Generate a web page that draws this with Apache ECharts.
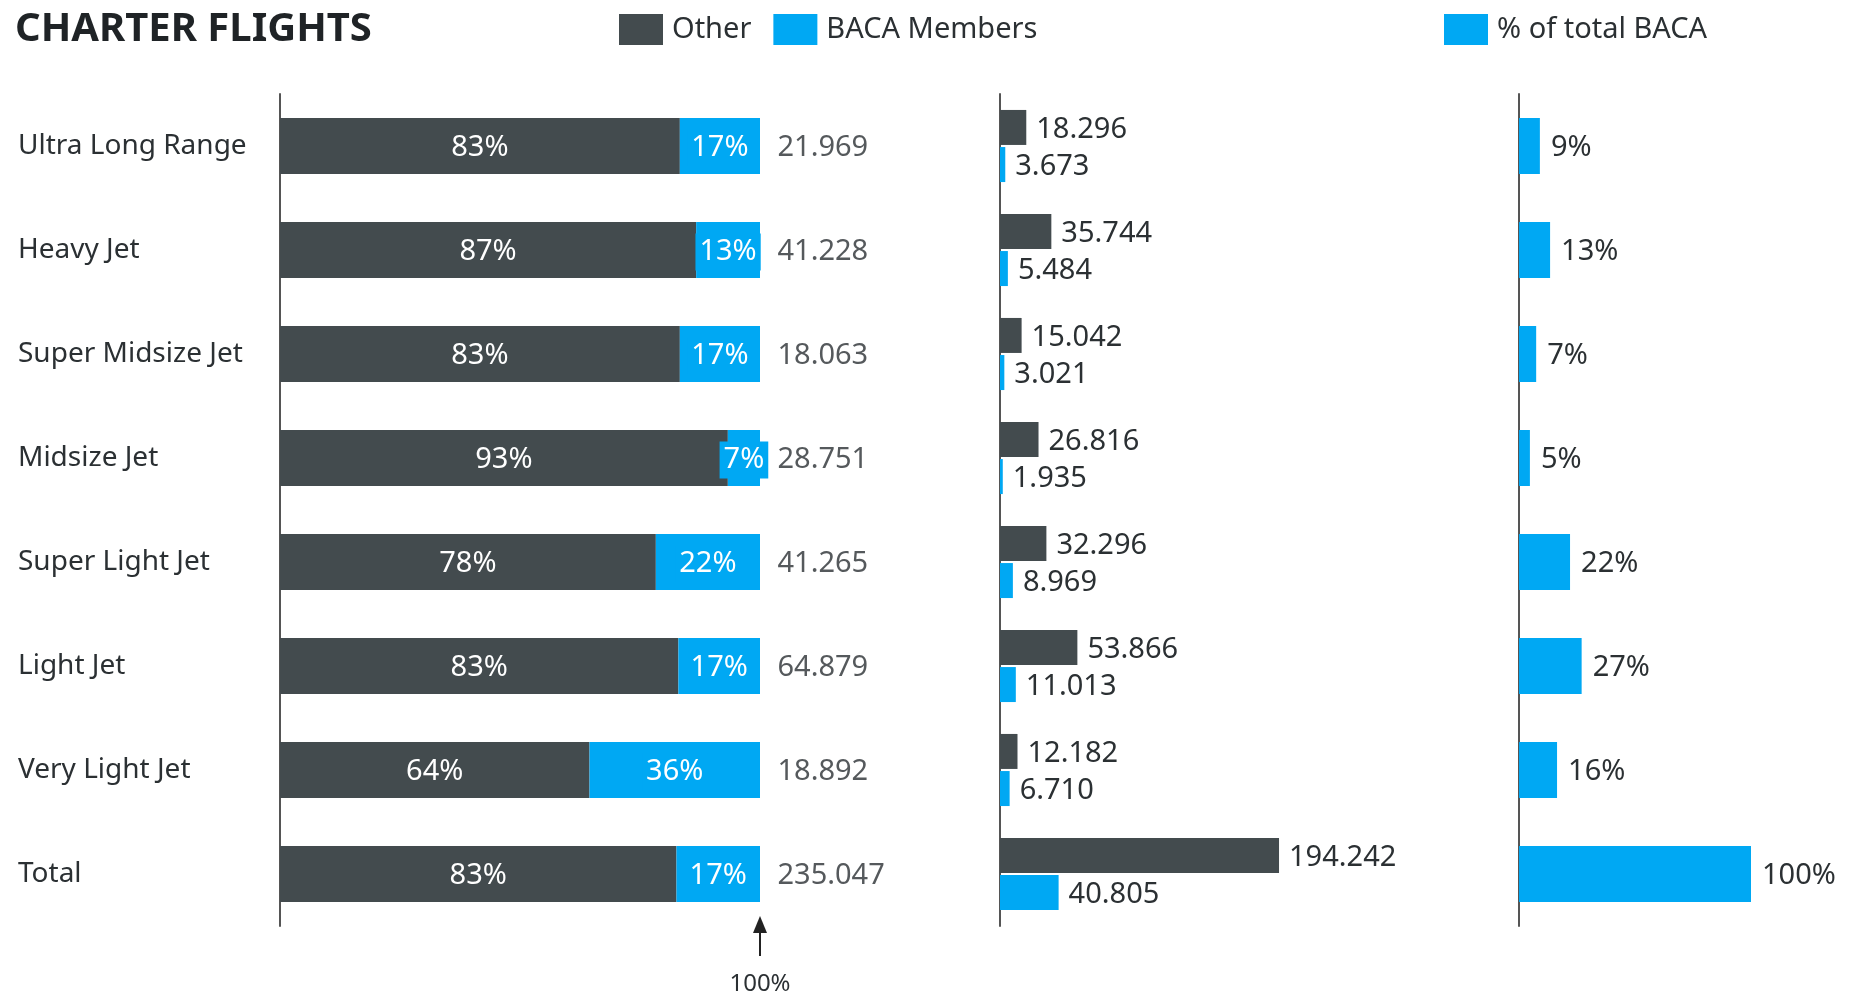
<!DOCTYPE html>
<html>
<head>
<meta charset="utf-8">
<title>Charter Flights</title>
<script src="https://cdn.jsdelivr.net/npm/echarts@6/dist/echarts.min.js"></script>
<style>
  html, body { margin: 0; padding: 0; background: #fff; }
  #main { width: 1854px; height: 998px; }
</style>
</head>
<body>
<div id="main"></div>
<script>
// categories, top to bottom
var categories = ['Ultra Long Range', 'Heavy Jet', 'Super Midsize Jet', 'Midsize Jet',
  'Super Light Jet', 'Light Jet', 'Very Light Jet', 'Total'];
// flights (thousands, shown with '.' separator)
var otherFlights = [18.296, 35.744, 15.042, 26.816, 32.296, 53.866, 12.182, 194.242];
var bacaFlights = [3.673, 5.484, 3.021, 1.935, 8.969, 11.013, 6.710, 40.805];
var totalFlights = [21.969, 41.228, 18.063, 28.751, 41.265, 64.879, 18.892, 235.047];
// share of each category (%)
var otherPct = [83.3, 86.7, 83.3, 93.3, 78.3, 83.0, 64.48, 82.6];
var bacaPct = [16.7, 13.3, 16.7, 6.7, 21.7, 17.0, 35.52, 17.4];
// share of total BACA (%)
var bacaOfTotal = [9.0, 13.4, 7.4, 4.7, 22.0, 27.0, 16.4, 100];

var DARK = '#434b4e';
var BLUE = '#00a8f3';
var TEXT = '#2b3033';
var FONT = 'Noto Sans';
var FS = 29;

var chart = echarts.init(document.getElementById('main'));

function catAxis(gridIndex, showLabels) {
  return {
    type: 'category',
    gridIndex: gridIndex,
    data: categories,
    inverse: true,
    axisLine: { show: true, lineStyle: { color: '#555', width: 2 } },
    axisTick: { show: false },
    axisLabel: {
      show: showLabels,
      align: 'left',
      margin: 262,
      fontSize: 28,
      fontFamily: FONT,
      color: TEXT,
      padding: [0, 0, 4, 0]
    }
  };
}

function valAxis(gridIndex, max) {
  return {
    type: 'value',
    gridIndex: gridIndex,
    min: 0,
    max: max,
    show: false
  };
}

var option = {
  textStyle: { fontFamily: FONT },
  title: {
    text: 'CHARTER FLIGHTS',
    left: 10,
    top: 5,
    textStyle: { fontSize: 40, fontWeight: 'bold', color: '#1f2326', fontFamily: FONT }
  },
  legend: [
    {
      data: ['Other', 'BACA Members'],
      left: 614,
      top: 9,
      icon: 'rect',
      itemWidth: 44,
      itemHeight: 31,
      itemGap: 22,
      textStyle: { fontSize: FS, color: TEXT, fontFamily: FONT, padding: [0, 0, 0, 4] }
    },
    {
      data: ['% of total BACA'],
      left: 1439,
      top: 9,
      icon: 'rect',
      itemWidth: 44,
      itemHeight: 31,
      textStyle: { fontSize: FS, color: TEXT, fontFamily: FONT, padding: [0, 0, 0, 4] }
    }
  ],
  grid: [
    { left: 280, top: 94, width: 480, height: 832 },
    { left: 1000, top: 94, width: 287.3, height: 832 },
    { left: 1519, top: 94, width: 232, height: 832 }
  ],
  xAxis: [valAxis(0, 100), valAxis(1, 200), valAxis(2, 100)],
  yAxis: [catAxis(0, true), catAxis(1, false), catAxis(2, false)],
  series: [
    {
      name: 'Other',
      type: 'bar',
      stack: 'share',
      xAxisIndex: 0,
      yAxisIndex: 0,
      data: otherPct,
      barWidth: 56,
      itemStyle: { color: DARK },
      label: {
        show: true,
        position: 'inside',
        offset: [0, 2],
        color: '#fff',
        fontSize: FS,
        formatter: function (p) { return Math.round(p.value) + '%'; }
      }
    },
    {
      name: 'BACA Members',
      type: 'bar',
      stack: 'share',
      xAxisIndex: 0,
      yAxisIndex: 0,
      data: bacaPct,
      barWidth: 56,
      itemStyle: { color: BLUE },
      label: {
        show: true,
        position: 'inside',
        offset: [0, 2],
        color: '#fff',
        fontSize: FS,
        backgroundColor: BLUE,
        padding: [4, 4, 4, 4],
        formatter: function (p) { return Math.round(p.value) + '%'; }
      }
    },
    {
      name: 'totals',
      type: 'scatter',
      xAxisIndex: 0,
      yAxisIndex: 0,
      symbolSize: 1,
      itemStyle: { color: 'rgba(0,0,0,0)' },
      silent: true,
      data: totalFlights.map(function (v, i) { return [100, i]; }),
      label: {
        show: true,
        position: 'right',
        distance: 17,
        offset: [0, 2],
        color: TEXT,
        fontSize: FS,
        formatter: function (p) { return totalFlights[p.dataIndex].toFixed(3); }
      }
    },
    {
      name: 'Other',
      type: 'bar',
      xAxisIndex: 1,
      yAxisIndex: 1,
      data: otherFlights,
      barWidth: 35,
      barGap: '6%',
      itemStyle: { color: DARK },
      label: {
        show: true,
        position: 'right',
        distance: 10,
        offset: [0, 2],
        color: TEXT,
        fontSize: FS,
        formatter: function (p) { return p.value.toFixed(3); }
      }
    },
    {
      name: 'BACA Members',
      type: 'bar',
      xAxisIndex: 1,
      yAxisIndex: 1,
      data: bacaFlights,
      barWidth: 35,
      itemStyle: { color: BLUE },
      label: {
        show: true,
        position: 'right',
        distance: 10,
        offset: [0, 2],
        color: TEXT,
        fontSize: FS,
        formatter: function (p) { return p.value.toFixed(3); }
      }
    },
    {
      name: '% of total BACA',
      type: 'bar',
      xAxisIndex: 2,
      yAxisIndex: 2,
      data: bacaOfTotal,
      barWidth: 56,
      itemStyle: { color: BLUE },
      label: {
        show: true,
        position: 'right',
        distance: 11,
        offset: [0, 2],
        color: TEXT,
        fontSize: FS,
        formatter: function (p) { return Math.round(p.value) + '%'; }
      }
    }
  ]
};

chart.setOption(option);

// arrow marking the 100% end of the share bars
var x100 = chart.convertToPixel({ xAxisIndex: 0 }, 100);
chart.setOption({
  graphic: [
    {
      type: 'polygon',
      shape: { points: [[x100, 916], [x100 - 7, 933], [x100 + 7, 933]] },
      style: { fill: '#222' }
    },
    {
      type: 'line',
      shape: { x1: x100, y1: 930, x2: x100, y2: 956 },
      style: { stroke: '#222', lineWidth: 2 }
    },
    {
      type: 'text',
      x: x100,
      y: 984,
      style: {
        text: '100%',
        fontSize: 24,
        fontFamily: FONT,
        fill: TEXT,
        align: 'center',
        verticalAlign: 'middle'
      }
    }
  ]
});

window.addEventListener('resize', function () {
  chart.resize();
});
</script>
</body>
</html>
